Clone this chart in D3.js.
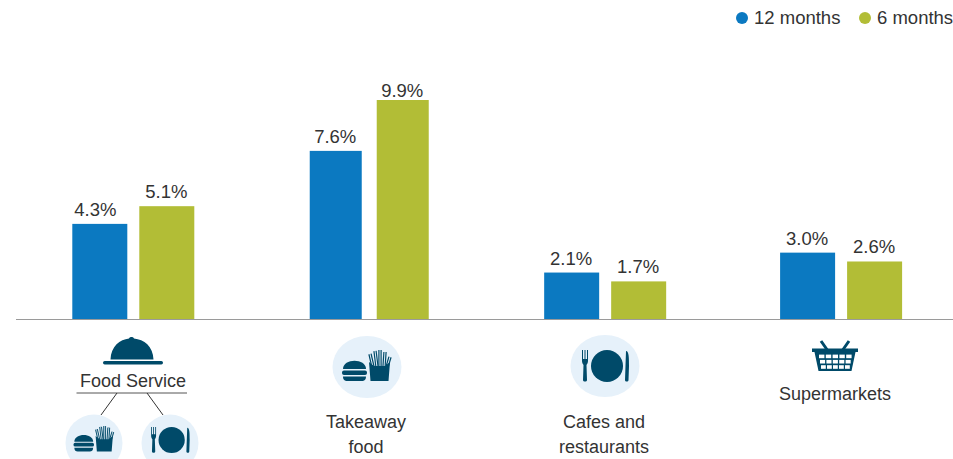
<!DOCTYPE html>
<html>
<head>
<meta charset="utf-8">
<script src="https://cdn.jsdelivr.net/npm/d3@7"></script>
<style>
  html, body { margin: 0; padding: 0; background: #fff; overflow: hidden; }
  svg { display: block; }
  text { font-family: "Liberation Sans", Arial, sans-serif; font-weight: 400; fill: #333; }
</style>
</head>
<body>
<svg id="chart" width="953" height="459"></svg>
<script>
// Share of spend by channel, over two time windows
const categories = ["Food Service", "Takeaway food", "Cafes and restaurants", "Supermarkets"];
const seriesNames = ["12 months", "6 months"];
const twelveMonths = [4.3, 7.6, 2.1, 3.0];
const sixMonths = [5.1, 9.9, 1.7, 2.6];

const BLUE = "#0b79c1", GREEN = "#b2bd36", TEAL = "#004a69", PALE = "#e6f1fa";
const baseline = 319;

const svg = d3.select("#chart");
const x = d3.scalePoint().domain(categories).range([133.3, 841.1]);
const inner = d3.scaleBand().domain(seriesNames).range([-61, 61]).paddingInner(12 / 67);
const y = d3.scaleLinear().domain([0, 9.9]).range([baseline, 100]);
const colour = d3.scaleOrdinal().domain(seriesNames).range([BLUE, GREEN]);

const rows = categories.flatMap((c, i) => [
  { cat: c, series: seriesNames[0], value: twelveMonths[i] },
  { cat: c, series: seriesNames[1], value: sixMonths[i] }
]);
const barWidth = d => inner.bandwidth() - (d.cat === "Takeaway food" ? 3 : 0);
const barCentre = d => x(d.cat) + inner(d.series) + inner.bandwidth() / 2;

// Bars
svg.append("g").selectAll("rect").data(rows).join("rect")
  .attr("x", d => barCentre(d) - barWidth(d) / 2)
  .attr("y", d => y(d.value))
  .attr("width", barWidth)
  .attr("height", d => baseline - y(d.value))
  .attr("fill", d => colour(d.series));

// Value labels; the tallest bar's label sits closer and the first one is pulled left
const labelGap = d => d.value === 9.9 ? 3.5 : 8;
const labelShift = d => d.value === 4.3 ? -4.5 : -0.5;
svg.append("g").selectAll("text").data(rows).join("text")
  .attr("x", d => barCentre(d) + labelShift(d))
  .attr("y", d => y(d.value) - labelGap(d))
  .attr("text-anchor", "middle")
  .attr("font-size", 18.5)
  .text(d => d.value.toFixed(1) + "%");

// Baseline rule
svg.append("line")
  .attr("x1", 16).attr("x2", 953).attr("y1", baseline + 0.5).attr("y2", baseline + 0.5)
  .attr("stroke", "#9a9a9a").attr("stroke-width", 1);

// Legend
const legendDots = [742, 865];
seriesNames.forEach((name, i) => {
  svg.append("circle").attr("cx", legendDots[i]).attr("cy", 18).attr("r", 6).attr("fill", colour(name));
  svg.append("text").attr("x", legendDots[i] + 12).attr("y", 24).attr("font-size", 18.5).text(name);
});

// Icons, drawn around their own centre
function burgerFries(g) {
  g.append("path").attr("fill", TEAL)
    .attr("d", "M-24,2 C-24,-9 -1,-9 -1,2 Z");
  g.append("rect").attr("x", -25).attr("y", 3.5).attr("width", 25).attr("height", 4.5).attr("rx", 2).attr("fill", TEAL);
  g.append("path").attr("fill", TEAL)
    .attr("d", "M-24,9.5 H-1 C-1,13 -3,14 -5,14 H-20 C-22,14 -24,13 -24,9.5 Z");
  const fries = [[6, 0, 3, -13], [10, 0, 8, -16], [13, 0, 13, -17], [17, 0, 18, -15], [20, 0, 23, -10]];
  g.selectAll(null).data(fries).join("line")
    .attr("x1", d => d[0]).attr("y1", d => d[1]).attr("x2", d => d[2]).attr("y2", d => d[3])
    .attr("stroke", TEAL).attr("stroke-width", 3.4);
  g.selectAll(null).data(fries).join("line")
    .attr("x1", d => d[0]).attr("y1", d => d[1]).attr("x2", d => d[2]).attr("y2", d => d[3])
    .attr("stroke", PALE).attr("stroke-width", 1);
  g.append("path").attr("fill", TEAL)
    .attr("d", "M2,-5 L7,-1 H18 L23,-5 L21.5,14 H3.5 Z");
}
function plateCutlery(g) {
  g.append("circle").attr("cx", 2).attr("cy", 0).attr("r", 16).attr("fill", TEAL);
  // fork
  g.append("path").attr("fill", TEAL)
    .attr("d", "M-23,-16 H-22 V-7 H-20.5 V-16 H-19.5 V-7 H-18 V-16 H-17 V-5 C-17,-3 -18,-2 -18.5,-1 L-18,14 C-18,16 -22,16 -22,14 L-21.5,-1 C-22,-2 -23,-3 -23,-5 Z");
  // knife
  g.append("path").attr("fill", TEAL)
    .attr("d", "M21,-15 C24,-15 24,-8 24,0 L23.5,14 C23.5,16 20,16 20,14 Z");
}
function circled(cx, cy, rx, ry, draw, scale, dx, dy) {
  const g = svg.append("g");
  g.append("ellipse").attr("cx", cx).attr("cy", cy).attr("rx", rx).attr("ry", ry).attr("fill", PALE);
  const inside = g.append("g").attr("transform", `translate(${cx + dx},${cy + dy}) scale(${scale})`);
  draw(inside);
}

circled(367, 367, 34.5, 31, burgerFries, 1, 0, 0);
circled(605, 366, 34.5, 31, plateCutlery, 1, 0, 0);
circled(94, 443, 28.5, 28.5, burgerFries, 0.82, 0, -3);
circled(170, 443, 28.5, 28.5, plateCutlery, 0.82, 0, -3);

// Cloche over the Food Service heading
const cloche = svg.append("g");
cloche.append("path").attr("fill", TEAL)
  .attr("d", "M110.5,359.5 C111,346 120,339.5 129,338.5 C129.5,336.5 133.5,336.5 134,338.5 C144,339.5 153,346 153.5,359.5 Z");
cloche.append("rect").attr("x", 103).attr("y", 361).attr("width", 60).attr("height", 3.5).attr("rx", 1.7).attr("fill", TEAL);

// Food Service heading and its branches
svg.append("text").attr("x", 133).attr("y", 387).attr("text-anchor", "middle").attr("font-size", 18).text(categories[0]);
svg.append("line").attr("x1", 76.5).attr("x2", 187).attr("y1", 393).attr("y2", 393).attr("stroke", "#555").attr("stroke-width", 1);
svg.append("line").attr("x1", 117).attr("y1", 393).attr("x2", 101).attr("y2", 415).attr("stroke", "#333").attr("stroke-width", 1);
svg.append("line").attr("x1", 147).attr("y1", 393).attr("x2", 163).attr("y2", 415).attr("stroke", "#333").attr("stroke-width", 1);

// Shopping basket
const basket = svg.append("g");
basket.append("path").attr("fill", "none").attr("stroke", TEAL).attr("stroke-width", 3)
  .attr("d", "M828,351 L821,341 M842,351 L849,341");
basket.append("rect").attr("x", 812).attr("y", 348.5).attr("width", 46).attr("height", 3.5).attr("fill", TEAL);
const basketBody = d3.path();
basketBody.moveTo(814.5, 352); basketBody.lineTo(855.5, 352); basketBody.lineTo(851.5, 371); basketBody.lineTo(818.5, 371); basketBody.closePath();
basket.append("path").attr("d", basketBody.toString()).attr("fill", TEAL);
const holeCols = [0, 1, 2, 3, 4], holeRows = [0, 1, 2];
holeRows.forEach(r => holeCols.forEach(c => {
  const w = 5.4 - r * 0.3, inset = r * 1;
  basket.append("rect")
    .attr("x", 819 + inset + c * (6.8 - r * 0.4))
    .attr("y", 354.6 + r * 5.3).attr("width", w).attr("height", 3.6).attr("fill", "#fff");
}));

// Category captions
const captions = [
  { lines: ["Takeaway", "food"], cx: 366, top: 428 },
  { lines: ["Cafes and", "restaurants"], cx: 604, top: 428 },
  { lines: ["Supermarkets"], cx: 835, top: 400 }
];
captions.forEach(c => c.lines.forEach((line, i) => {
  svg.append("text").attr("x", c.cx).attr("y", c.top + i * 25)
    .attr("text-anchor", "middle").attr("font-size", 18).text(line);
}));
</script>
</body>
</html>
